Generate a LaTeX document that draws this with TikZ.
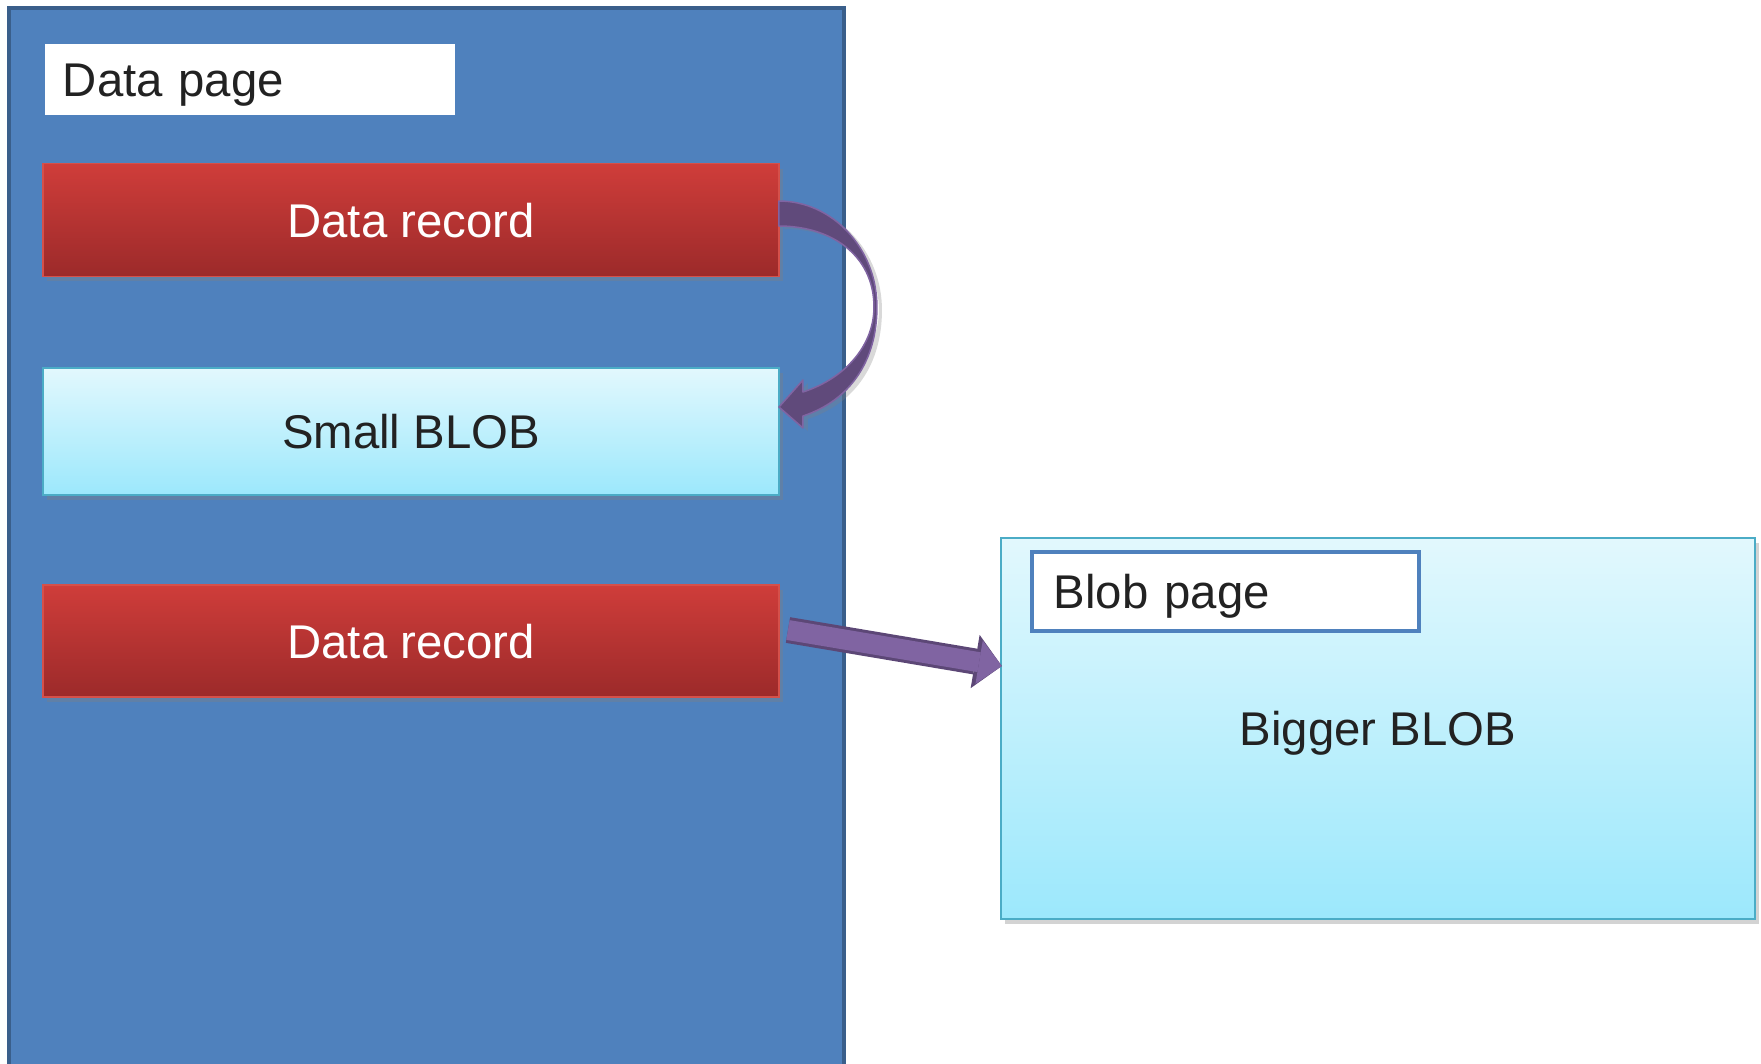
\documentclass[tikz,border=0pt]{standalone}
\usepackage{fontspec}
\setmainfont{Liberation Sans}
\usetikzlibrary{shadows,arrows.meta,calc}
\definecolor{pageblue}{HTML}{4F81BD}
\definecolor{pageborder}{HTML}{3A5F8B}
\definecolor{rectop}{HTML}{CF3D3A}
\definecolor{recbottom}{HTML}{9C2A2A}
\definecolor{recborder}{HTML}{D5504A}
\definecolor{blobtop}{HTML}{E2F8FD}
\definecolor{blobbottom}{HTML}{9CE8FC}
\definecolor{blobborder}{HTML}{4BACC6}
\definecolor{arrowdark}{HTML}{604A7B}
\definecolor{arrowlight}{HTML}{8064A2}
\definecolor{arrowborder}{HTML}{5C4776}
\definecolor{textdark}{HTML}{222222}
\newcommand{\mysize}{\fontsize{13.46}{16}\selectfont}
\newcommand{\recwidth}{7.36cm}
\tikzset{
    node style page/.style={draw=pageborder,line width=0.04cm,fill=pageblue,minimum width=8.35cm,minimum height=10.62cm},
    node style label/.style={fill=white,text=textdark,font=\mysize,align=left,inner ysep=0pt,text height=0.34cm,text depth=0pt},
    node style rec/.style={draw=recborder,line width=0.015cm,top color=rectop,bottom color=recbottom,text=white,font=\mysize,minimum width=\recwidth,text height=0.34cm,text depth=0pt,drop shadow={shadow xshift=0.04cm,shadow yshift=-0.05cm,opacity=0.35}},
    node style blob/.style={draw=blobborder,line width=0.02cm,top color=blobtop,bottom color=blobbottom,text=textdark,font=\mysize,text height=0.34cm,text depth=0pt,drop shadow={shadow xshift=0.04cm,shadow yshift=-0.05cm,opacity=0.35}},
    arrow style curve/.style={draw=arrowlight,line width=0.015cm,fill=arrowdark,line join=round,drop shadow={shadow xshift=0.05cm,shadow yshift=-0.03cm,opacity=0.3}},
    arrow style straight/.style={draw=arrowlight,line width=0.2cm,-{Triangle[length=0.23cm,width=0.44cm,line width=0pt]},preaction={draw=arrowborder,line width=0.26cm,-{Triangle[length=0.27cm,width=0.54cm,line width=0pt]}}},
}

\begin{document}
\begin{tikzpicture}[x=0.01cm,y=-0.01cm]
\useasboundingbox (0,0) rectangle (1761,1063);
% data page and its records
\node [node style page] (datapage) at (426.5,539) {};
\node [node style label,text width=3.74cm,inner xsep=0.18cm,minimum height=0.71cm] (datalabel) at (250,79.5) {Data page};
\node [node style rec,minimum height=1.125cm] (rec1) at (411,220) {Data record};
\node [node style blob,minimum width=\recwidth,minimum height=1.27cm] (small) at (411,431.5) {Small BLOB};
\node [node style rec,minimum height=1.12cm] (rec2) at (411,641) {Data record};
% blob page
\node [node style blob,minimum width=7.535cm,minimum height=3.81cm] (blobpage) at (1377.75,728.5) {Bigger BLOB};
\node [node style label,draw=pageblue,line width=0.04cm,text width=3.43cm,inner xsep=0.22cm,minimum height=0.79cm] (bloblabel) at (1225.5,591.5) {Blob page};
% 
% curved arrow into the small blob
\begin{scope}[shift={(rec1.east)}]
\draw [arrow style curve] (-1,-19) .. controls (52,-19) and (97,28) .. (97,87)
  .. controls (97,140) and (71,180) .. (23,196) -- (23,208) -- (-1,187) -- (23,160) -- (23,172)
  .. controls (66,158) and (94,125) .. (94,87) .. controls (94,35) and (51,6) .. (-1,6) -- cycle;
\end{scope}
% arrow to the blob page
\coordinate (tailb) at ($(rec2.east)+(8,-11)$);
\coordinate (tipb) at ($(blobpage.west)+(2,-62.5)$);
\draw [arrow style straight] (tailb) -- (tipb);

\end{tikzpicture}
\end{document}
